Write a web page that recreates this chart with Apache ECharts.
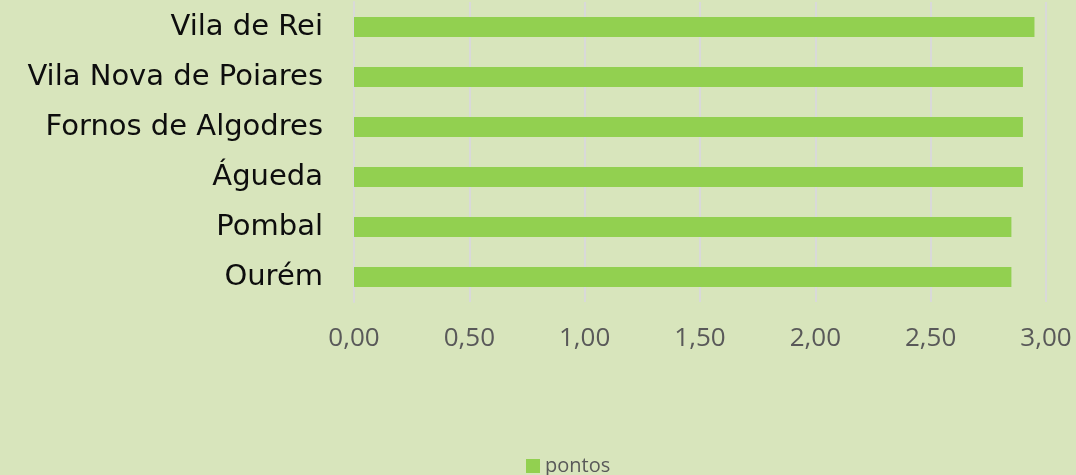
<!DOCTYPE html>
<html>
<head>
<meta charset="utf-8">
<script src="https://cdn.jsdelivr.net/npm/echarts@6/dist/echarts.min.js"></script>
<style>
  html, body { margin: 0; padding: 0; background: #d8e5bc; }
  #chart { width: 1076px; height: 475px; }
</style>
</head>
<body>
<div id="chart"></div>
<script>
// concelhos, de baixo para cima (ordem do eixo de categorias)
var categorias = ['Ourém', 'Pombal', 'Águeda', 'Fornos de Algodres', 'Vila Nova de Poiares', 'Vila de Rei'];
var pontos = [2.85, 2.85, 2.90, 2.90, 2.90, 2.95];
var nomeSerie = 'pontos';

var myChart = echarts.init(document.getElementById('chart'));

var option = {
    backgroundColor: '#d8e5bc',
    animation: false,
    legend: {
        data: [nomeSerie],
        top: 456,
        left: 526,
        padding: 0,
        icon: 'rect',
        itemWidth: 14,
        itemHeight: 14,
        textStyle: {
            color: '#595959',
            fontSize: 20,
            fontFamily: 'Open Sans'
        }
    },
    grid: {
        left: 354,
        right: 30,
        top: 2,
        height: 300
    },
    xAxis: {
        type: 'value',
        min: 0,
        max: 3,
        interval: 0.5,
        axisLine: { show: false },
        axisTick: { show: false },
        splitLine: { lineStyle: { color: '#d9d9d9', width: 2 } },
        axisLabel: {
            margin: 24,
            color: '#595959',
            fontSize: 26,
            fontFamily: 'Open Sans',
            formatter: function (v) {
                return v.toFixed(2).replace('.', ',');
            }
        }
    },
    yAxis: {
        type: 'category',
        data: categorias,
        axisLine: { show: true, lineStyle: { color: '#d9d9d9', width: 2 } },
        axisTick: { show: false },
        axisLabel: {
            margin: 31,
            color: '#0d0d0d',
            fontSize: 29,
            fontFamily: 'DejaVu Sans'
        }
    },
    series: [{
        name: nomeSerie,
        type: 'bar',
        data: pontos,
        barCategoryGap: '60%',
        itemStyle: { color: '#92d050' }
    }]
};
myChart.setOption(option);
</script>
</body>
</html>
